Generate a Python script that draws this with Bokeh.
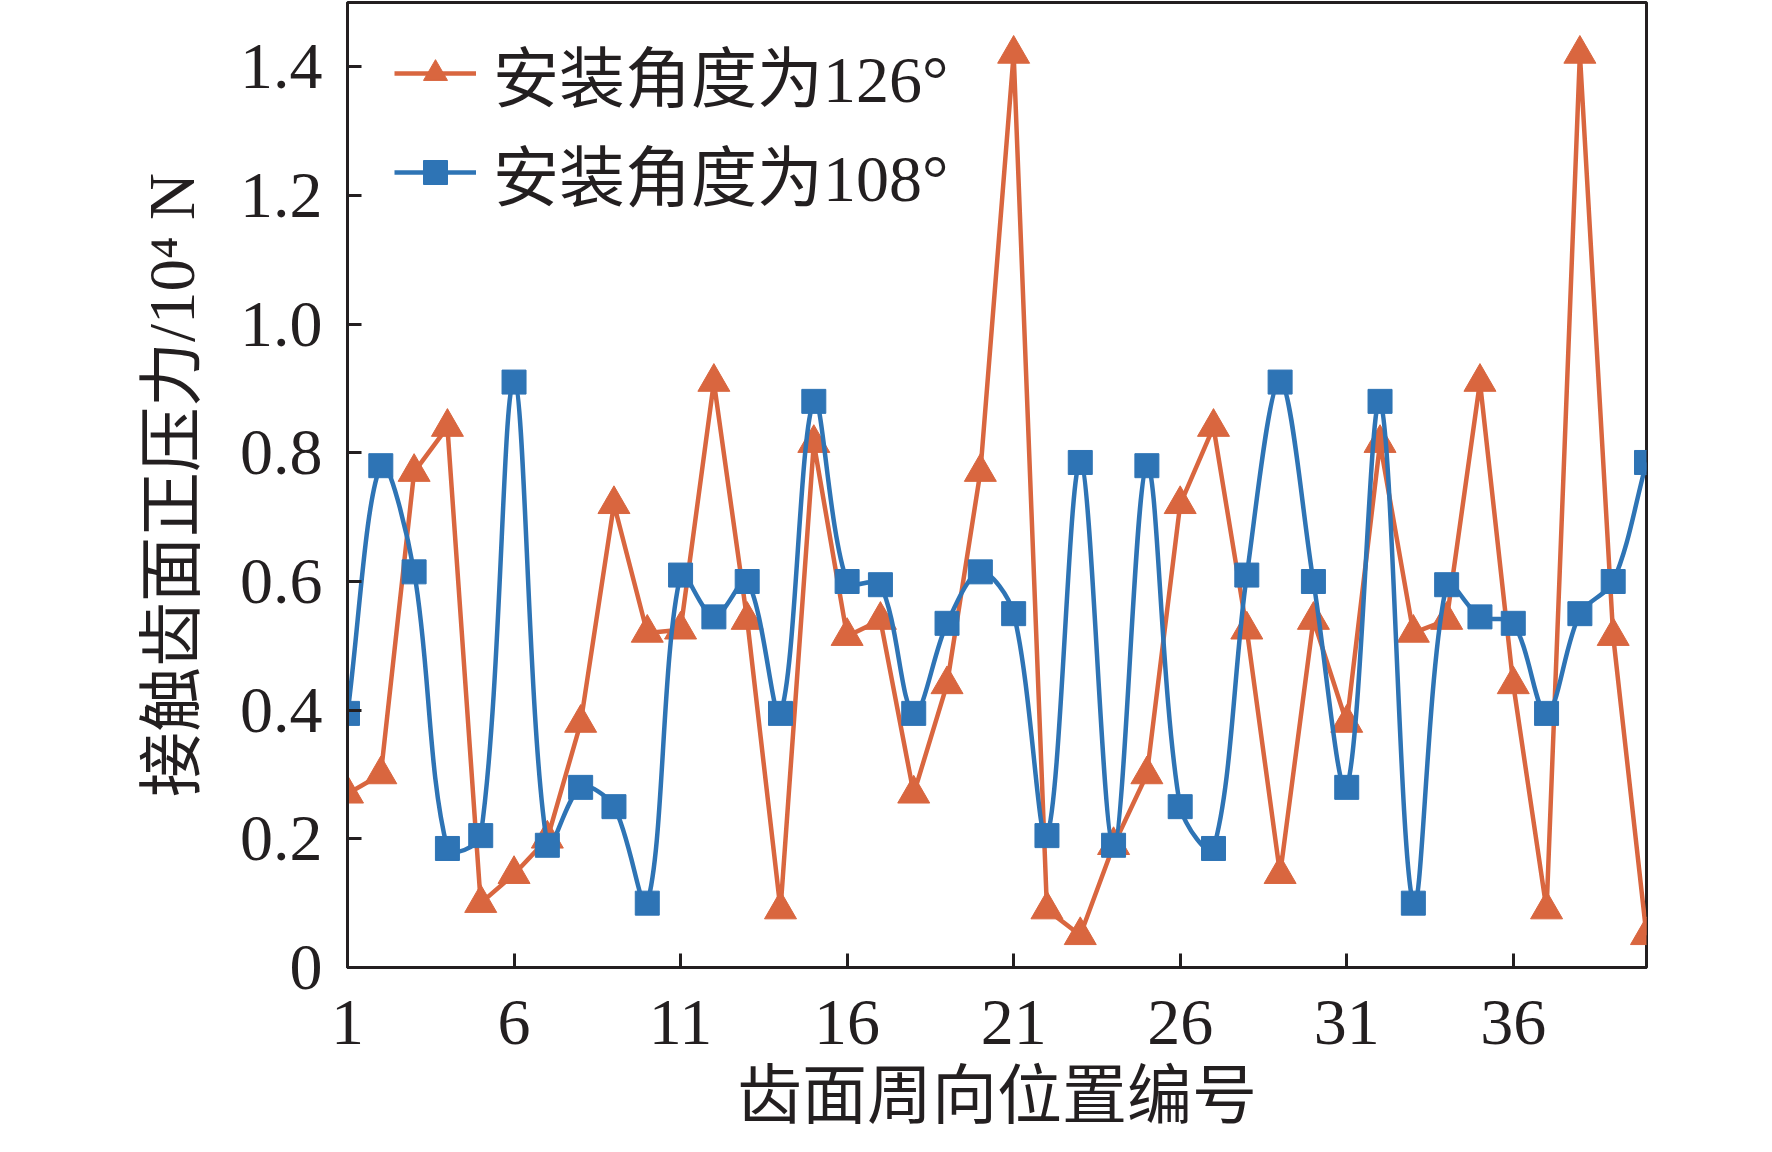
import math
from bokeh.plotting import figure
from bokeh.models import FixedTicker, Range1d, Legend, LegendItem, ColumnDataSource, PrintfTickFormatter
from bokeh.embed import file_html
from bokeh.resources import INLINE

# ---- data ----
positions = list(range(1, 41))
force_126 = [0.27, 0.30, 0.77, 0.84, 0.10, 0.145, 0.20, 0.38, 0.72, 0.52,
             0.525, 0.91, 0.54, 0.09, 0.815, 0.515, 0.54, 0.27, 0.44, 0.77,
             1.42, 0.09, 0.05, 0.19, 0.30, 0.72, 0.84, 0.525, 0.145, 0.54,
             0.38, 0.815, 0.52, 0.54, 0.91, 0.44, 0.09, 1.42, 0.515, 0.05]
force_108 = [0.395, 0.78, 0.615, 0.185, 0.205, 0.91, 0.19, 0.28, 0.25, 0.10,
             0.61, 0.545, 0.60, 0.395, 0.88, 0.60, 0.595, 0.395, 0.535, 0.615,
             0.55, 0.205, 0.785, 0.19, 0.78, 0.25, 0.185, 0.61, 0.91, 0.60,
             0.28, 0.88, 0.10, 0.595, 0.545, 0.535, 0.395, 0.55, 0.60, 0.785]
label_126 = "安装角度为126°"
label_108 = "安装角度为108°"
x_title = "齿面周向位置编号"
y_title = "接触齿面正压力/10⁴ N"
x_ticks = [1, 6, 11, 16, 21, 26, 31, 36]
y_ticks = [0, 0.2, 0.4, 0.6, 0.8, 1.0, 1.2, 1.4]

ORANGE = "#D9663F"
BLUE = "#2E74B5"
INK = "#231F20"
FONT = "'Liberation Serif', 'Noto Sans CJK SC'"

p = figure(width=1756, height=1136, output_backend="svg", toolbar_location=None,
           x_range=Range1d(1, 40), y_range=Range1d(0, 1.5),
           min_border_left=347, min_border_right=110, min_border_top=2, min_border_bottom=169)
p.xgrid.visible = False
p.ygrid.visible = False
p.outline_line_color = INK
p.outline_line_width = 3
p.background_fill_color = "white"
p.border_fill_color = "white"

for ax in (p.xaxis[0], p.yaxis[0]):
    ax.axis_line_color = INK
    ax.axis_line_width = 3
    ax.major_tick_line_color = INK
    ax.major_tick_line_width = 3
    ax.major_tick_in = 14
    ax.major_tick_out = 0
    ax.minor_tick_line_color = None
    ax.major_label_text_font = FONT
    ax.major_label_text_font_size = "66px"
    ax.major_label_text_color = INK
    ax.axis_label_text_font = FONT
    ax.axis_label_text_font_size = "65px"
    ax.axis_label_text_font_style = "normal"
    ax.axis_label_text_color = INK

p.xaxis.ticker = FixedTicker(ticks=x_ticks)
p.yaxis.ticker = FixedTicker(ticks=y_ticks)
p.yaxis.formatter = PrintfTickFormatter(format="%.1f")
p.yaxis.major_label_overrides = {0: "0"}
p.xaxis.major_label_standoff = 33
p.yaxis.major_label_standoff = 25
p.xaxis.axis_label = x_title
p.yaxis.axis_label = y_title
p.xaxis.axis_label_standoff = 13
p.yaxis.axis_label_standoff = 29

LW = 4.5

# orange straight line
r_o_line = p.line(positions, force_126, line_color=ORANGE, line_width=LW)
r_o_mark = p.scatter(positions, force_126, marker="triangle", size=32,
                     fill_color=ORANGE, line_color=ORANGE)

# blue smoothed line: cubic Bezier segments through the data points,
# tangents weighted by neighbouring segment lengths (screen aspect)
SX, SY = 33.3, 645.0
n = len(positions)

def seg_len(a, b):
    return math.hypot((positions[b] - positions[a]) * SX, (force_108[b] - force_108[a]) * SY)

out_c, in_c = [], []
for i in range(n):
    ip = max(i - 1, 0)
    inn = min(i + 1, n - 1)
    tx = positions[inn] - positions[ip]
    ty = force_108[inn] - force_108[ip]
    d_prev = seg_len(ip, i)
    d_next = seg_len(i, inn)
    tot = d_prev + d_next if (d_prev + d_next) > 0 else 1.0
    k = 1.0 / 3.0
    out_c.append((positions[i] + tx * k * d_next / tot, force_108[i] + ty * k * d_next / tot))
    in_c.append((positions[i] - tx * k * d_prev / tot, force_108[i] - ty * k * d_prev / tot))

bsrc = ColumnDataSource(dict(
    x0=positions[:-1], y0=force_108[:-1], x1=positions[1:], y1=force_108[1:],
    cx0=[c[0] for c in out_c[:-1]], cy0=[c[1] for c in out_c[:-1]],
    cx1=[c[0] for c in in_c[1:]], cy1=[c[1] for c in in_c[1:]]))
p.bezier(x0="x0", y0="y0", x1="x1", y1="y1", cx0="cx0", cy0="cy0", cx1="cx1", cy1="cy1",
         source=bsrc, line_color=BLUE, line_width=LW)
# one-point line used only as the legend's line sample
r_b_line = p.line(positions[:1], force_108[:1], line_color=BLUE, line_width=LW)
r_b_mark = p.scatter(positions, force_108, marker="square", size=24,
                     fill_color=BLUE, line_color=BLUE)

legend = Legend(items=[LegendItem(label=label_126, renderers=[r_o_line, r_o_mark]),
                       LegendItem(label=label_108, renderers=[r_b_line, r_b_mark])],
                location=(47, 747), orientation="vertical")
legend.padding = 0
legend.margin = 0
legend.spacing = 3
legend.glyph_width = 82
legend.glyph_height = 60
legend.label_height = 60
legend.label_standoff = 17
legend.label_text_font = FONT
legend.label_text_font_size = "66px"
legend.label_text_color = INK
legend.background_fill_alpha = 0
legend.border_line_alpha = 0
p.add_layout(legend)

open("out.html", "w").write(file_html(p, INLINE))
